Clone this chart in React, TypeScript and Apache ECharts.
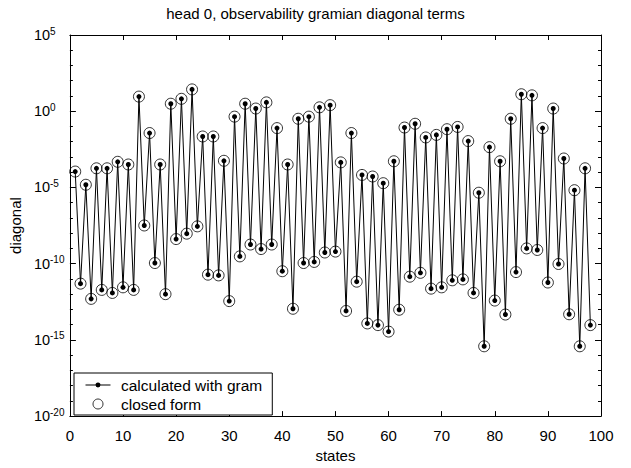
import { useEffect, useRef } from "react";
import * as echarts from "echarts";

const states = [
  1, 2, 3, 4, 5, 6, 7, 8, 9, 10, 11, 12, 13, 14, 15, 16, 17, 18, 19, 20,
  21, 22, 23, 24, 25, 26, 27, 28, 29, 30, 31, 32, 33, 34, 35, 36, 37, 38, 39, 40,
  41, 42, 43, 44, 45, 46, 47, 48, 49, 50, 51, 52, 53, 54, 55, 56, 57, 58, 59, 60,
  61, 62, 63, 64, 65, 66, 67, 68, 69, 70, 71, 72, 73, 74, 75, 76, 77, 78, 79, 80,
  81, 82, 83, 84, 85, 86, 87, 88, 89, 90, 91, 92, 93, 94, 95, 96, 97, 98,
];

const calculatedWithGram = [
  1.1e-4, 4.9e-12, 1.5e-5, 4.9e-13, 1.8e-4, 1.9e-12, 1.8e-4, 1.2e-12, 4.8e-4, 2.8e-12,
  3.2e-4, 1.9e-12, 9.1e0, 3.2e-8, 3.7e-2, 1.1e-10, 3.2e-4, 1.0e-12, 3.1e0, 4.1e-9,
  6.5e0, 9.3e-9, 2.7e1, 2.8e-8, 2.2e-2, 1.9e-11, 2.2e-2, 1.7e-11, 5.6e-4, 3.5e-13,
  4.4e-1, 3.0e-10, 3.1e0, 1.8e-9, 1.5e0, 9.1e-10, 3.8e0, 1.8e-9, 7.8e-2, 3.2e-11,
  3.2e-4, 1.1e-13, 3.2e-1, 1.1e-10, 4.4e-1, 1.3e-10, 1.8e0, 5.4e-10, 2.5e0, 6.2e-10,
  4.4e-4, 7.9e-14, 3.7e-2, 6.6e-12, 6.6e-5, 1.2e-14, 5.2e-5, 9.3e-15, 1.9e-5, 3.5e-15,
  5.2e-4, 9.5e-14, 8.5e-2, 1.4e-11, 1.5e-1, 2.5e-11, 1.9e-2, 2.3e-12, 2.8e-2, 2.8e-12,
  6.6e-2, 8.1e-12, 9.3e-2, 9.3e-12, 1.1e-2, 1.2e-12, 4.5e-6, 3.8e-16, 4.4e-3, 3.8e-13,
  5.2e-4, 4.6e-14, 3.2e-1, 2.8e-11, 1.3e1, 1.0e-9, 1.1e1, 7.9e-10, 7.8e-2, 5.8e-12,
  1.5e0, 9.5e-11, 7.9e-4, 4.8e-14, 6.6e-6, 3.8e-16, 1.8e-4, 9.3e-15,
];

const closedForm = [
  1.1e-4, 4.9e-12, 1.5e-5, 4.9e-13, 1.8e-4, 1.9e-12, 1.8e-4, 1.2e-12, 4.8e-4, 2.8e-12,
  3.2e-4, 1.9e-12, 9.1e0, 3.2e-8, 3.7e-2, 1.1e-10, 3.2e-4, 1.0e-12, 3.1e0, 4.1e-9,
  6.5e0, 9.3e-9, 2.7e1, 2.8e-8, 2.2e-2, 1.9e-11, 2.2e-2, 1.7e-11, 5.6e-4, 3.5e-13,
  4.4e-1, 3.0e-10, 3.1e0, 1.8e-9, 1.5e0, 9.1e-10, 3.8e0, 1.8e-9, 7.8e-2, 3.2e-11,
  3.2e-4, 1.1e-13, 3.2e-1, 1.1e-10, 4.4e-1, 1.3e-10, 1.8e0, 5.4e-10, 2.5e0, 6.2e-10,
  4.4e-4, 7.9e-14, 3.7e-2, 6.6e-12, 6.6e-5, 1.2e-14, 5.2e-5, 9.3e-15, 1.9e-5, 3.5e-15,
  5.2e-4, 9.5e-14, 8.5e-2, 1.4e-11, 1.5e-1, 2.5e-11, 1.9e-2, 2.3e-12, 2.8e-2, 2.8e-12,
  6.6e-2, 8.1e-12, 9.3e-2, 9.3e-12, 1.1e-2, 1.2e-12, 4.5e-6, 3.8e-16, 4.4e-3, 3.8e-13,
  5.2e-4, 4.6e-14, 3.2e-1, 2.8e-11, 1.3e1, 1.0e-9, 1.1e1, 7.9e-10, 7.8e-2, 5.8e-12,
  1.5e0, 9.5e-11, 7.9e-4, 4.8e-14, 6.6e-6, 3.8e-16, 1.8e-4, 9.3e-15,
];

// y axis: powers of ten (exponents) shown as 10^n
const yExponentMin = -20;
const yExponentMax = 5;
const yExponentStep = 5;
const xMin = 0;
const xMax = 100;
const xStep = 10;

const FONT = 'Arial, "Liberation Sans", sans-serif';

// legend glyph: short line with a small dot (tiny end specks fix the icon box width)
const LINE_DOT_ICON =
  "path://M0,5H0.01V5.01H0Z M36,5H36.01V5.01H36Z M5.5,4.5H30.5V5.5H5.5Z M18,2.5A2.5,2.5,0,1,1,18,7.5A2.5,2.5,0,1,1,18,2.5Z";

export default function App() {
  const ref = useRef<HTMLDivElement>(null);

  useEffect(() => {
    if (!ref.current) return;
    const chart = echarts.init(ref.current, null, { renderer: "svg" });

    const gramData = states.map((s, i) => [s, Math.log10(calculatedWithGram[i])]);
    const closedData = states.map((s, i) => [s, Math.log10(closedForm[i])]);

    const axisLine = { show: true, onZero: false, lineStyle: { color: "#000", width: 1 } };

    const xBase = {
      type: "value",
      min: xMin,
      max: xMax,
      interval: xStep,
      splitLine: { show: false },
      axisLine,
      axisTick: { show: true, inside: true, length: 5, lineStyle: { color: "#000" } },
    };
    const yBase = {
      type: "value",
      min: yExponentMin,
      max: yExponentMax,
      interval: yExponentStep,
      splitLine: { show: false },
      axisLine,
      axisTick: { show: true, inside: true, length: 6, lineStyle: { color: "#000" } },
      minorTick: { show: true, splitNumber: 5, length: 3, lineStyle: { color: "#000" } },
    };

    chart.setOption({
      animation: false,
      backgroundColor: "#fff",
      title: {
        text: "head 0, observability gramian diagonal terms",
        left: "center",
        top: 6,
        padding: [0, 0, 0, 37],
        textStyle: { fontFamily: FONT, fontSize: 15, fontWeight: "normal", color: "#000" },
      },
      grid: { left: 67, right: 30, top: 35, bottom: 46 },
      legend: {
        orient: "vertical",
        left: 74,
        top: 373,
        backgroundColor: "#fff",
        borderColor: "#000",
        borderWidth: 1,
        borderRadius: 0,
        padding: [4, 10, 3, 6],
        itemGap: 3,
        itemWidth: 36,
        itemHeight: 10,
        textStyle: { fontFamily: FONT, fontSize: 15.5, color: "#000" },
        data: [
          {
            name: "calculated with gram",
            icon: LINE_DOT_ICON,
            itemStyle: { color: "#000", borderWidth: 0 },
          },
          {
            name: "closed form",
            icon: "circle",
            itemStyle: { color: "rgba(0,0,0,0)", borderColor: "#000", borderWidth: 1 },
          },
        ],
      },
      xAxis: [
        {
          ...xBase,
          position: "bottom",
          name: "states",
          nameLocation: "middle",
          nameGap: 28,
          nameTextStyle: { fontFamily: FONT, fontSize: 15, color: "#000" },
          axisLabel: { margin: 12, fontFamily: FONT, fontSize: 15, color: "#000" },
        },
        { ...xBase, position: "top", axisLabel: { show: false } },
      ],
      yAxis: [
        {
          ...yBase,
          position: "left",
          name: "diagonal",
          nameLocation: "middle",
          nameGap: 44,
          nameTextStyle: { fontFamily: FONT, fontSize: 15, color: "#000" },
          axisLabel: {
            margin: 36,
            align: "left",
            formatter: (v: number) => `{b|10}{s|${v}}`,
            rich: {
              b: { fontFamily: FONT, fontSize: 14.5, color: "#000" },
              s: { fontFamily: FONT, fontSize: 10, color: "#000", padding: [0, 0, 8, 0] },
            },
          },
        },
        { ...yBase, position: "right", axisLabel: { show: false } },
      ],
      series: [
        {
          name: "closed form",
          type: "scatter",
          data: closedData,
          symbol: "circle",
          symbolSize: 11,
          itemStyle: { color: "rgba(0,0,0,0)", borderColor: "#000", borderWidth: 1 },
          z: 2,
        },
        {
          name: "calculated with gram",
          type: "line",
          data: gramData,
          symbol: "circle",
          symbolSize: 5,
          showSymbol: true,
          lineStyle: { color: "#000", width: 1 },
          itemStyle: { color: "#000" },
          z: 3,
        },
      ],
    });

    return () => chart.dispose();
  }, []);

  return (
    <div
      ref={ref}
      style={{ position: "fixed", left: 0, top: 0, width: 631, height: 468 }}
    />
  );
}
